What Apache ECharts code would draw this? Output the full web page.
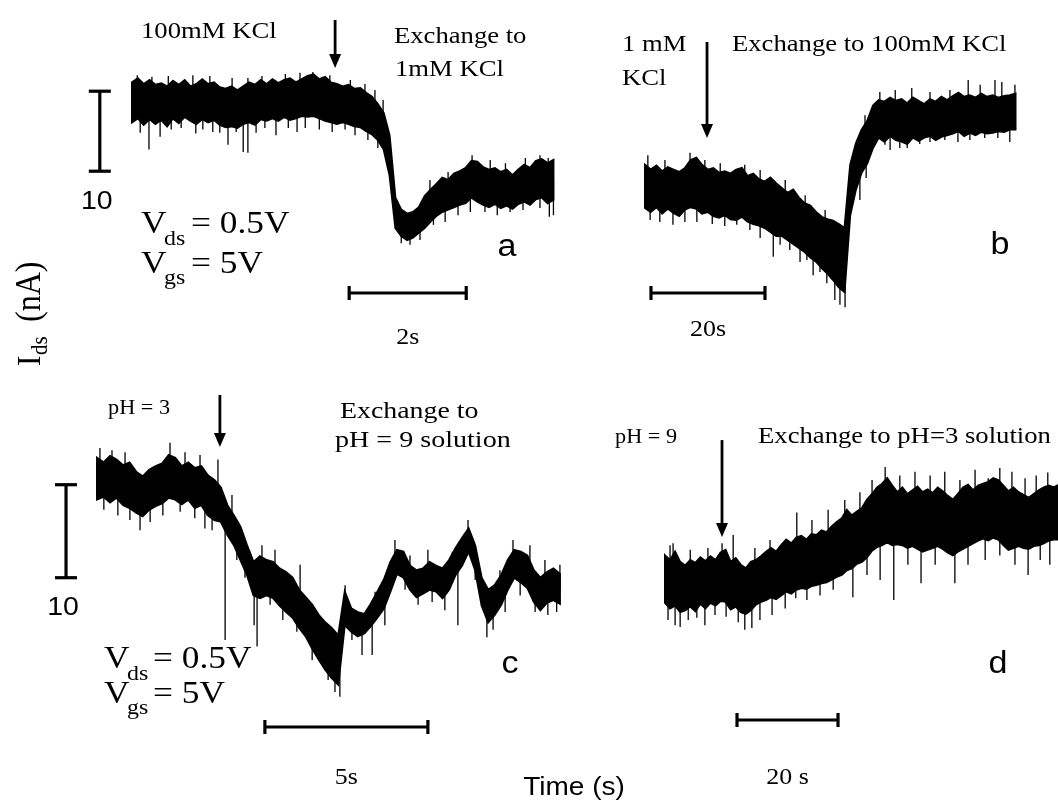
<!DOCTYPE html>
<html><head><meta charset="utf-8">
<script src="https://cdn.jsdelivr.net/npm/echarts@6/dist/echarts.min.js"></script>
<style>html,body{margin:0;padding:0;background:#fff}#c{width:1058px;height:810px}</style>
</head><body><div id="c"></div>
<script>
// ---------- DATA ----------
// Panel a: 100 mM KCl -> 1 mM KCl, sampled every 0.1 s, current in nA (relative)
const aStart = 0, aStep = 0.1;
const aHigh = [22.2,22.7,22.0,22.5,21.9,22.1,21.7,22.4,21.9,22.5,
  21.7,22.0,22.6,22.0,22.2,21.6,21.4,21.7,21.2,21.7,
  22.2,21.9,22.5,22.0,22.6,22.1,22.5,22.7,22.2,22.6,
  23.0,23.2,22.6,22.9,22.2,22.0,21.7,21.9,21.4,21.5,
  20.9,20.4,19.5,18.4,15.6,7.8,6.3,5.8,6.0,6.6,
  8.0,8.8,9.5,10.3,10.0,10.8,11.1,11.5,12.4,12.3,
  11.6,11.3,11.5,11.0,11.3,10.6,11.3,11.9,11.5,12.4,
  12.6,12.1,12.5];
const aLow = [17.2,17.7,16.9,17.6,17.0,17.5,16.7,17.7,17.1,17.9,
  17.4,17.0,17.6,17.2,17.5,16.9,16.6,16.7,16.5,17.0,
  17.2,16.9,17.6,17.4,17.7,17.4,17.9,17.5,17.7,18.0,
  17.9,18.0,17.7,17.4,17.2,17.0,17.2,17.0,16.7,16.6,
  16.1,15.7,15.0,13.8,10.6,4.0,3.0,2.5,2.8,3.4,
  4.0,4.8,5.5,6.0,6.3,6.6,6.9,7.1,7.8,7.3,
  6.9,6.6,7.0,6.5,6.8,6.4,7.0,7.3,6.9,7.6,
  7.8,7.1,7.5];
// isolated noise spikes [time s, tip nA]
const aSpikes = [[0.14,15.9],[0.29,13.8],[0.48,15.4],[0.67,16.3],[0.84,16.5],[1.09,15.8],[1.21,16.3],[1.38,16.0],
  [1.5,15.9],[1.64,14.4],[1.78,16.0],[1.9,13.5],[1.98,13.4],[2.12,15.9],[2.27,16.5],[2.46,15.6],[2.67,16.5],
  [2.82,16.0],[2.96,16.5],[3.2,16.3],[3.42,16.0],[3.64,16.3],[3.81,15.6],[4.03,15.0],[4.2,14.0],[4.34,12.5],
  [4.6,2.1],[4.75,1.9],[4.92,2.5],[5.15,4.4],[5.35,4.75],[5.57,5.6],[5.78,6.0],[6.03,6.0],[6.24,5.6],[6.46,6.0],
  [6.68,6.25],[6.97,6.5],[7.13,5.4],[7.2,5.6],
  [0.09,23.1],[0.34,22.9],[0.62,23.0],[1.04,23.1],[1.33,23.0],[1.71,22.75],[1.98,22.75],[2.22,23.0],[2.62,23.25],
  [2.87,23.4],[3.09,23.5],[3.38,23.1],[3.73,22.5],[3.98,22.0],[4.15,21.25],[4.29,20.0],[5.09,10.0],[5.4,11.0],
  [5.81,13.1],[6.12,12.5],[6.38,12.1],[6.72,12.75],[6.97,13.1],[7.11,12.75]];
const aEvent = 3.47;

// Panel b: 1 mM KCl -> 100 mM KCl, sampled every 1 s
const bStart = 0, bStep = 1;
const bHigh = [19.4,18.8,19.3,18.6,19.1,18.8,18.5,19.0,20.0,20.3,
  19.4,18.8,19.0,18.4,18.6,18.3,18.8,19.0,18.0,18.3,
  17.6,17.3,17.8,17.1,16.5,15.9,16.3,15.3,14.6,14.3,
  13.5,12.9,12.6,12.4,12.0,11.5,19.4,22.1,23.8,24.9,
  26.8,27.5,27.3,27.8,27.4,27.6,27.1,27.8,27.4,27.0,
  27.6,27.3,27.9,27.5,28.0,28.4,27.9,28.1,27.8,28.3,
  27.9,28.1,27.8,28.0,28.1,28.3];
const bLow = [14.0,13.5,14.1,13.3,13.9,13.4,13.0,13.8,14.1,13.9,
  13.3,13.5,13.0,12.8,13.1,12.6,12.5,12.9,12.3,12.0,
  11.8,11.5,11.0,10.5,10.5,10.0,9.5,9.0,8.5,7.8,
  7.3,6.5,5.8,5.0,4.1,3.5,13.1,16.3,18.4,19.6,
  21.5,22.8,22.3,23.0,22.5,22.3,22.0,22.8,22.4,22.8,
  23.0,22.5,22.9,23.1,23.3,23.6,23.0,23.4,23.1,23.5,
  23.3,23.4,23.6,23.5,23.8,23.8];
const bSpikes = [[0.9,12.5],[2.6,12.25],[4.9,11.9],[7.0,12.25],[9.1,12.25],[11.8,12.0],[14.0,11.75],[16.1,11.9],
  [18.4,11.25],[20.2,10.25],[22.5,7.9],[23.7,9.4],[25.4,8.75],[27.2,7.25],[28.4,7.5],[29.5,5.6],[30.7,6.0],
  [31.9,4.6],[33.3,2.5],[34.2,1.9],[35.1,1.6],[37.7,15.0],[38.8,17.75],[42.1,21.9],[43.0,21.25],[44.7,21.5],
  [46.0,21.5],[48.2,22.0],[50.0,22.25],[52.6,22.5],[54.9,22.25],[57.0,22.5],[59.6,22.75],[61.9,22.75],[64.0,22.25],
  [0.5,20.6],[3.5,20.0],[7.9,20.9],[10.5,20.0],[13.2,19.6],[17.5,19.4],[20.2,18.75],[24.6,17.5],[28.1,15.6],
  [31.6,13.75],[38.6,25.6],[41.2,28.5],[43.9,28.75],[46.8,29.0],[50.0,28.5],[53.5,28.75],[56.7,30.0],[58.8,29.4],
  [61.4,30.0],[62.6,29.75],[64.9,29.4]];
const bEvent = 10.88;

// Panel c: pH 3 -> pH 9, sampled every 0.2 s
const cStart = 0, cStep = 0.2;
const cHigh = [28.2,27.7,28.4,28.0,27.4,27.7,26.7,26.2,26.9,27.3,
  27.6,28.5,28.2,27.3,27.7,27.1,27.3,26.3,25.8,25.0,
  23.1,22.0,20.8,18.8,17.0,17.6,17.2,17.0,16.3,15.9,
  15.3,14.0,13.2,12.4,11.3,10.5,9.9,9.1,13.8,12.0,
  11.6,11.4,12.5,13.8,15.1,17.0,18.3,18.1,16.6,16.1,
  16.3,17.0,16.6,16.3,17.2,18.5,19.6,20.6,18.8,15.3,
  14.0,14.5,15.6,17.2,18.3,18.1,17.7,16.1,15.3,15.9,
  16.3,15.7];
const cLow = [23.7,24.0,23.4,23.9,23.1,22.8,22.3,21.9,22.6,23.0,
  23.3,23.9,23.7,23.2,23.7,22.8,23.1,22.0,21.5,21.3,
  19.9,18.8,17.2,15.6,13.4,13.1,13.4,13.1,12.3,11.6,
  11.0,9.9,9.0,7.7,6.5,5.4,4.5,3.8,10.2,9.5,
  9.0,9.3,10.1,11.0,12.0,13.8,15.7,15.3,14.0,13.2,
  13.6,14.0,13.8,13.1,14.0,15.6,16.6,18.1,16.1,12.3,
  10.5,11.3,12.4,14.0,15.3,14.8,14.2,12.7,11.8,12.6,
  12.9,12.5];
const cSpikes = [[0.21,22.6],[0.64,22.0],[1.01,21.5],[1.32,20.4],[1.63,21.3],[2.02,22.0],[2.55,22.4],[3.0,21.7],
  [3.31,20.6],[3.53,20.4],[3.93,8.6],[4.29,17.2],[4.54,15.3],[4.82,10.2],[4.91,7.9],[5.31,12.4],[5.7,10.75],
  [6.13,9.5],[6.6,6.45],[7.09,4.3],[7.3,3.0],[7.45,2.5],[7.82,8.6],[8.13,7.0],[8.44,7.0],[8.83,10.2],[9.45,14.0],
  [9.85,12.4],[10.28,12.7],[10.67,11.8],[11.07,10.2],[11.6,15.05],[11.96,8.9],[12.15,9.7],[12.52,11.6],
  [12.98,13.4],[13.44,11.6],[13.83,11.3],[14.1,11.6],
  [0.09,29.25],[0.46,29.0],[0.86,28.8],[2.24,29.8],[2.7,28.8],[3.16,28.5],[3.71,28.0],[4.14,24.2],[5.06,18.8],
  [5.46,18.3],[6.23,16.7],[7.61,14.5],[8.53,13.8],[9.14,19.35],[9.6,17.7],[10.15,18.3],[10.9,18.1],[11.38,21.5],
  [12.36,16.1],[12.76,19.35],[13.28,18.8],[13.74,17.2],[14.2,16.7]];
const cEvent = 3.77;

// Panel d: pH 9 -> pH 3, sampled every 1 s
const dStart = 0, dStep = 1;
const dHigh = [17.7,17.2,18.1,17.0,16.6,17.2,16.9,17.5,17.1,17.6,
  17.2,18.0,18.3,17.0,17.4,16.7,16.3,17.0,17.2,17.6,
  18.1,18.5,18.1,18.8,19.4,19.0,19.6,19.8,19.4,20.0,
  19.9,20.4,20.2,20.8,21.3,21.7,22.6,22.0,22.4,22.8,
  23.7,24.3,25.0,25.4,26.0,25.2,24.5,25.0,24.3,24.7,
  25.1,24.5,24.8,24.4,25.0,24.6,24.1,23.7,24.3,25.0,
  25.3,24.7,25.2,25.4,25.6,26.0,25.8,25.2,24.6,25.0,
  24.5,24.2,23.9,24.3,24.7,25.0,25.2,25.0,25.3];
const dLow = [12.6,12.0,12.3,11.6,11.8,12.2,11.7,12.5,12.0,12.6,
  12.3,12.8,12.7,11.9,12.2,11.6,11.4,11.8,12.4,12.7,
  12.9,13.2,13.0,13.4,13.8,13.6,14.0,14.2,14.1,14.4,
  14.5,14.7,14.8,15.1,15.4,15.6,16.1,16.3,16.8,17.0,
  17.5,18.2,18.6,18.8,19.1,18.8,18.9,18.8,18.5,18.7,
  18.4,18.1,18.3,18.5,18.7,18.4,18.0,17.7,18.1,18.4,
  18.7,19.0,19.3,19.5,19.3,19.6,19.4,18.8,18.3,18.5,
  18.7,18.5,18.4,18.7,18.8,19.0,19.3,19.4,19.4];
const dSpikes = [[0.6,10.75],[2.0,10.2],[3.0,10.0],[4.6,10.75],[6.3,11.0],[7.9,10.2],[9.9,11.3],[12.1,11.1],
  [14.5,10.5],[15.8,9.7],[17.2,9.9],[18.8,10.75],[21.2,11.3],[23.8,12.0],[25.9,13.1],[28.1,12.9],[30.7,13.4],
  [33.3,14.0],[37.2,13.2],[40.0,15.6],[42.6,15.05],[45.3,12.9],[48.1,16.7],[50.7,14.7],[53.5,16.7],[57.4,14.7],
  [60.0,16.7],[63.4,17.2],[66.3,17.7],[69.3,16.7],[71.9,15.6],[74.3,17.2],[76.2,16.7],
  [1.0,18.8],[1.6,19.0],[5.0,18.3],[8.5,18.5],[11.3,19.0],[13.5,19.9],[17.8,18.5],[20.8,19.35],[26.1,22.3],
  [29.1,21.5],[32.3,22.6],[35.6,23.65],[38.6,24.5],[41.0,25.8],[43.6,27.2],[46.5,26.3],[49.5,26.7],[52.5,26.3],
  [55.4,26.7],[58.4,25.8],[61.4,26.9],[64.0,26.0],[66.3,27.1],[68.7,26.7],[71.3,26.0],[73.5,26.3],[75.8,26.6]];
const dEvent = 11.29;

// Scale bars
const currentBar = 10;                 // nA
const currentBarLabel = '10';
const timeBars = [2, 20, 5, 20];       // s
const timeBarLabels = ['2s', '20s', '5s', '20 s'];
const panelLetters = ['a', 'b', 'c', 'd'];

// ---------- LAYOUT ----------
const SERIF = '"Liberation Serif","Times New Roman",serif';
const SANS = '"Liberation Sans",Arial,sans-serif';
const SX = 1.14; // horizontal stretch of the original figure

const panels = [
  {t0:aStart, dt:aStep, hi:aHigh, lo:aLow, spikes:aSpikes, ev:aEvent,
   grid:{left:132, top:20, width:439, height:240}, x:[0,7.5], y:[0,30],
   arrow:[30,24], tb:{t:3.71, v:-4.125, lab:45}, vb:{t:-0.55, v:11.1, lab:31},
   letter:[507,247]},
  {t0:bStart, dt:bStep, hi:bHigh, lo:bLow, spikes:bSpikes, ev:bEvent,
   grid:{left:645, top:40, width:399, height:280}, x:[0,70], y:[0,35],
   arrow:[34.75,22.75], tb:{t:1.05, v:3.375, lab:37}, vb:null,
   letter:[1000,245]},
  {t0:cStart, dt:cStep, hi:cHigh, lo:cLow, spikes:cSpikes, ev:cEvent,
   grid:{left:97, top:441, width:489, height:279}, x:[0,15], y:[0,30],
   arrow:[34.95,29.35], tb:{t:5.15, v:-0.75, lab:51}, vb:{t:-0.95, v:15.3, lab:30},
   letter:[510,664]},
  {t0:dStart, dt:dStep, hi:dHigh, lo:dLow, spikes:dSpikes, ev:dEvent,
   grid:{left:665, top:441, width:404, height:279}, x:[0,80], y:[0,30],
   arrow:[30.1,19.68], tb:{t:14.26, v:0, lab:58}, vb:null,
   letter:[998,664]}
];

const grids = [], xAxes = [], yAxes = [], series = [];
panels.forEach((p, gi) => {
  grids.push(Object.assign({outerBoundsMode:'none', containLabel:false}, p.grid));
  xAxes.push({type:'value', gridIndex:gi, min:p.x[0], max:p.x[1], show:false});
  yAxes.push({type:'value', gridIndex:gi, min:p.y[0], max:p.y[1], show:false});
  const base = {xAxisIndex:gi, yAxisIndex:gi, clip:false, silent:true, animation:false};
  // noisy trace band
  series.push(Object.assign({}, base, {
    type:'custom',
    data: p.hi.map((v,i)=>[p.t0+i*p.dt, v, p.lo[i]]),
    encode:{x:0, y:[1,2]},
    renderItem:function(params, api){
      if (params.dataIndex !== 0) return null;
      const top = p.hi.map((v,i)=>api.coord([p.t0+i*p.dt, v]));
      const bot = p.lo.map((v,i)=>api.coord([p.t0+i*p.dt, v])).reverse();
      return {type:'polygon', shape:{points:top.concat(bot)},
        style:{fill:'#000', stroke:'#000', lineWidth:2, lineJoin:'miter'}};
    }
  }));
  // single-sample spikes
  series.push(Object.assign({}, base, {
    type:'custom', data:p.spikes, encode:{x:0, y:1},
    renderItem:function(params, api){
      const t = api.value(0), tip = api.value(1);
      const i = Math.max(0, Math.min(p.hi.length-1, Math.round((t-p.t0)/p.dt)));
      const mid = (p.hi[i]+p.lo[i])/2;
      const a = api.coord([t, mid]), b = api.coord([t, tip]);
      return {type:'line', shape:{x1:a[0], y1:a[1], x2:b[0], y2:b[1]}, style:{stroke:'#000', lineWidth:1.3}};
    }
  }));
  // solution-exchange arrow
  series.push(Object.assign({}, base, {
    type:'custom', data:[[p.ev, p.arrow[0], p.arrow[1]]], encode:{x:0, y:[1,2]},
    renderItem:function(params, api){
      const a = api.coord([api.value(0), api.value(1)]);
      const b = api.coord([api.value(0), api.value(2)]);
      return {type:'group', children:[
        {type:'line', shape:{x1:a[0], y1:a[1], x2:b[0], y2:b[1]-10}, style:{stroke:'#000', lineWidth:2.8}},
        {type:'polygon', shape:{points:[[b[0]-6,b[1]-14],[b[0]+6,b[1]-14],[b[0],b[1]]]}, style:{fill:'#000'}}
      ]};
    }
  }));
  // time scale bar
  series.push(Object.assign({}, base, {
    type:'custom', data:[[p.tb.t, p.tb.v, p.tb.t + timeBars[gi]]], encode:{x:[0,2], y:1},
    renderItem:function(params, api){
      const a = api.coord([api.value(0), api.value(1)]);
      const b = api.coord([api.value(2), api.value(1)]);
      const st = {stroke:'#000', lineWidth:3.2};
      return {type:'group', children:[
        {type:'line', shape:{x1:a[0], y1:a[1], x2:b[0], y2:b[1]}, style:st},
        {type:'line', shape:{x1:a[0], y1:a[1]-7, x2:a[0], y2:a[1]+7}, style:st},
        {type:'line', shape:{x1:b[0], y1:b[1]-7, x2:b[0], y2:b[1]+7}, style:st},
        {type:'text', x:(a[0]+b[0])/2, y:a[1]+p.tb.lab, scaleX:1.08,
          style:{text:timeBarLabels[gi], font:'24px '+SERIF, fill:'#000', textAlign:'center', textVerticalAlign:'middle'}}
      ]};
    }
  }));
  // current scale bar
  if (p.vb) {
    series.push(Object.assign({}, base, {
      type:'custom', data:[[p.vb.t, p.vb.v, p.vb.v + currentBar]], encode:{x:0, y:[1,2]},
      renderItem:function(params, api){
        const a = api.coord([api.value(0), api.value(1)]);
        const b = api.coord([api.value(0), api.value(2)]);
        const st = {stroke:'#000', lineWidth:3.2};
        return {type:'group', children:[
          {type:'line', shape:{x1:a[0], y1:a[1], x2:b[0], y2:b[1]}, style:st},
          {type:'line', shape:{x1:a[0]-11, y1:a[1], x2:a[0]+11, y2:a[1]}, style:st},
          {type:'line', shape:{x1:b[0]-11, y1:b[1], x2:b[0]+11, y2:b[1]}, style:st},
          {type:'text', x:a[0]-3, y:a[1]+p.vb.lab, scaleX:SX,
            style:{text:currentBarLabel, font:'25px '+SANS, fill:'#000', textAlign:'center', textVerticalAlign:'middle'}}
        ]};
      }
    }));
  }
});

function T(x, y, text, size, fam, align, sx) {
  return {type:'text', x:x, y:y, scaleX: sx || SX, silent:true,
    style:{text:text, font:size+'px '+fam, fill:'#000', textAlign:align||'left', textVerticalAlign:'middle'}};
}
const graphics = [
  T(141, 32, '100mM KCl', 23, SERIF, 'left', 1.16),
  T(394, 37, 'Exchange to', 24, SERIF, 'left', 1.11),
  T(395, 70, '1mM KCl', 24, SERIF, 'left', 1.11),
  T(622, 45, '1 mM', 24, SERIF, 'left', 1.11),
  T(622, 79, 'KCl', 24, SERIF, 'left', 1.11),
  T(732, 45, 'Exchange to 100mM KCl', 24, SERIF, 'left', 1.11),
  // Vds / Vgs (top)
  T(141, 225, 'V', 31, SERIF), T(164, 239, 'ds', 21, SERIF), T(191, 225, '= 0.5V', 31, SERIF),
  T(141, 265, 'V', 31, SERIF), T(164, 278, 'gs', 21, SERIF), T(191, 265, '= 5V', 31, SERIF),
  // bottom row
  T(108, 408, 'pH = 3', 21, SERIF, 'left', 1.06),
  T(340, 412, 'Exchange to', 24, SERIF, 'left', 1.16),
  T(335, 441, 'pH = 9 solution', 24, SERIF, 'left', 1.17),
  T(615, 437, 'pH = 9', 21, SERIF, 'left', 1.06),
  T(758, 437, 'Exchange to pH=3 solution', 23, SERIF, 'left', 1.16),
  T(104, 660, 'V', 31, SERIF), T(127, 674, 'ds', 21, SERIF), T(153, 660, '= 0.5V', 31, SERIF),
  T(104, 695, 'V', 31, SERIF), T(127, 708, 'gs', 21, SERIF), T(153, 695, '= 5V', 31, SERIF),
  // axis titles
  T(574, 788, 'Time (s)', 25, SANS, 'center', 1.12),
  {type:'group', x:31, y:312, rotation:Math.PI/2, scaleY:1.12, silent:true, children:[
    {type:'text', x:-54, y:0, style:{text:'I', font:'31px '+SERIF, fill:'#000', textAlign:'left', textVerticalAlign:'middle'}},
    {type:'text', x:-43, y:9, style:{text:'ds', font:'21px '+SERIF, fill:'#000', textAlign:'left', textVerticalAlign:'middle'}},
    {type:'text', x:-10, y:0, style:{text:'(nA)', font:'32px '+SERIF, fill:'#000', textAlign:'left', textVerticalAlign:'middle'}}
  ]}
];
panels.forEach((p, i) => graphics.push(T(p.letter[0], p.letter[1], panelLetters[i], 31, SANS, 'center', 1.1)));

const chart = echarts.init(document.getElementById('c'), null, {renderer:'canvas'});
chart.setOption({
  animation:false,
  backgroundColor:'#fff',
  grid:grids, xAxis:xAxes, yAxis:yAxes, series:series,
  graphic:{elements:graphics}
});
</script></body></html>
